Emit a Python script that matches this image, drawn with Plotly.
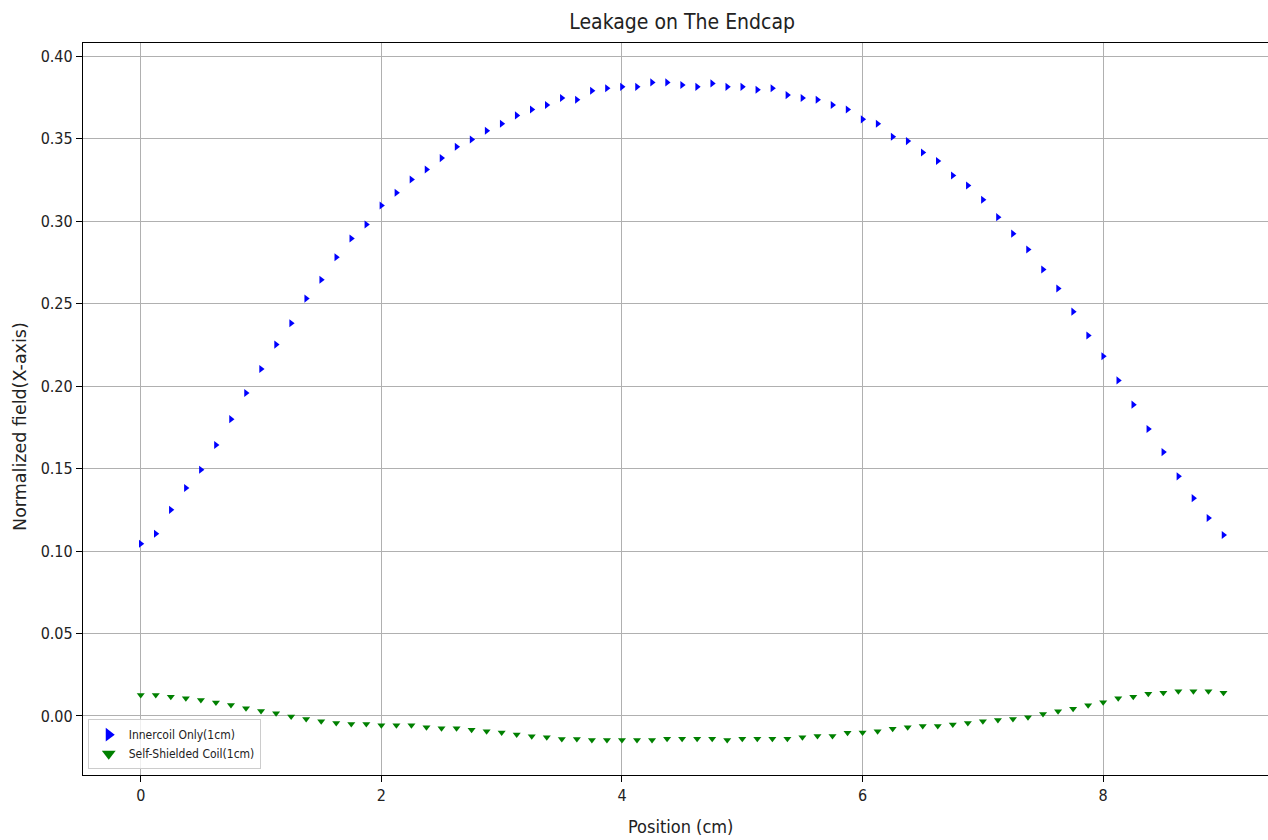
import plotly.graph_objects as go

# Data
positions = [i * 0.125 for i in range(73)]

innercoil = [0.1044, 0.1105, 0.125, 0.1382, 0.1493, 0.1643, 0.180, 0.1959, 0.2104, 0.2252,
             0.2381, 0.2531, 0.2645, 0.2782, 0.2895, 0.298, 0.3096, 0.3173, 0.3253, 0.3314,
             0.3383, 0.3452, 0.3496, 0.3549, 0.3591, 0.3642, 0.3678, 0.3705, 0.3747, 0.3737,
             0.3791, 0.3807, 0.3815, 0.3815, 0.3842, 0.3842, 0.3826, 0.3815, 0.3836, 0.3815,
             0.3815, 0.3798, 0.3807, 0.3765, 0.3747, 0.3737, 0.3705, 0.3678, 0.3618, 0.3591,
             0.3512, 0.3486, 0.3417, 0.3365, 0.3278, 0.3217, 0.313, 0.3025, 0.2925, 0.2829,
             0.2707, 0.2592, 0.2452, 0.2307, 0.2181, 0.2035, 0.1888, 0.174, 0.16, 0.1453,
             0.1321, 0.12, 0.1097]

selfshielded = [0.0127, 0.0127, 0.0117, 0.0107, 0.0097, 0.0081, 0.0067, 0.0047, 0.003, 0.0016,
                -0.0004, -0.0018, -0.0032, -0.0042, -0.0049, -0.0049, -0.0057, -0.0057, -0.0057, -0.0069,
                -0.0075, -0.0075, -0.0083, -0.0093, -0.0101, -0.0113, -0.0123, -0.0129, -0.014, -0.014,
                -0.0146, -0.0146, -0.0146, -0.0146, -0.0146, -0.0138, -0.0138, -0.0138, -0.0138, -0.0146,
                -0.0138, -0.0138, -0.0138, -0.0138, -0.0129, -0.0121, -0.0121, -0.0102, -0.0101, -0.0093,
                -0.0077, -0.0069, -0.0061, -0.0061, -0.0051, -0.0042, -0.0032, -0.0024, -0.0018, -0.0008,
                0.0012, 0.0028, 0.0044, 0.0065, 0.0083, 0.0107, 0.0117, 0.0134, 0.0141, 0.015,
                0.015, 0.015, 0.0141]

x_ticks = [0, 2, 4, 6, 8]
y_ticks = [0.00, 0.05, 0.10, 0.15, 0.20, 0.25, 0.30, 0.35, 0.40]
y_tick_labels = ["0.00", "0.05", "0.10", "0.15", "0.20", "0.25", "0.30", "0.35", "0.40"]

FONT = "DejaVu Sans Condensed, DejaVu Sans, sans-serif"

fig = go.Figure()
fig.add_trace(go.Scatter(
    x=positions, y=innercoil, mode="markers", name="Innercoil Only(1cm)",
    marker=dict(symbol="triangle-right", size=7, color="#0000ff", line=dict(width=0)),
))
fig.add_trace(go.Scatter(
    x=positions, y=selfshielded, mode="markers", name="Self-Shielded Coil(1cm)",
    marker=dict(symbol="triangle-down", size=7, color="#008000", line=dict(width=0)),
))

fig.update_layout(
    width=1268, height=840,
    margin=dict(l=83, r=0, t=43, b=65),
    paper_bgcolor="white", plot_bgcolor="white",
    font=dict(family=FONT, size=16, color="#222222"),
    title=dict(text="Leakage on The Endcap", x=0.538, xanchor="center", y=0.974, yanchor="middle",
               font=dict(family=FONT, size=21, color="#222222")),
    showlegend=True,
    legend=dict(x=0.004, y=0.008, xanchor="left", yanchor="bottom",
                bgcolor="rgba(255,255,255,0.8)", bordercolor="#cccccc", borderwidth=1,
                font=dict(family=FONT, size=12, color="#222222"), itemsizing="constant",
                tracegroupgap=0),
    annotations=[
        dict(text="Position (cm)", xref="paper", yref="paper", x=0.5046, y=-0.071,
             xanchor="center", yanchor="middle", showarrow=False,
             font=dict(family=FONT, size=18, color="#222222")),
        dict(text="Normalized field(X-axis)", xref="paper", yref="paper", x=-0.0532, y=0.4768,
             xanchor="center", yanchor="middle", showarrow=False, textangle=-90,
             font=dict(family="DejaVu Sans, sans-serif", size=17.5, color="#222222")),
    ],
)
fig.update_xaxes(
    range=[-0.48, 9.37], tickvals=x_ticks, ticktext=[str(t) for t in x_ticks],
    showgrid=True, gridcolor="#b0b0b0", gridwidth=1, zeroline=False,
    showline=True, linecolor="black", linewidth=1.2, mirror=True,
    ticks="outside", ticklen=6, tickcolor="black",
    tickfont=dict(family=FONT, size=16, color="#222222"),
)
fig.update_yaxes(
    range=[-0.0358, 0.4081], tickvals=y_ticks, ticktext=y_tick_labels,
    showgrid=True, gridcolor="#b0b0b0", gridwidth=1, zeroline=False,
    showline=True, linecolor="black", linewidth=1.2, mirror=False,
    ticks="outside", ticklen=6, tickcolor="black",
    tickfont=dict(family=FONT, size=16, color="#222222"),
)

fig.write_html("out.html")
